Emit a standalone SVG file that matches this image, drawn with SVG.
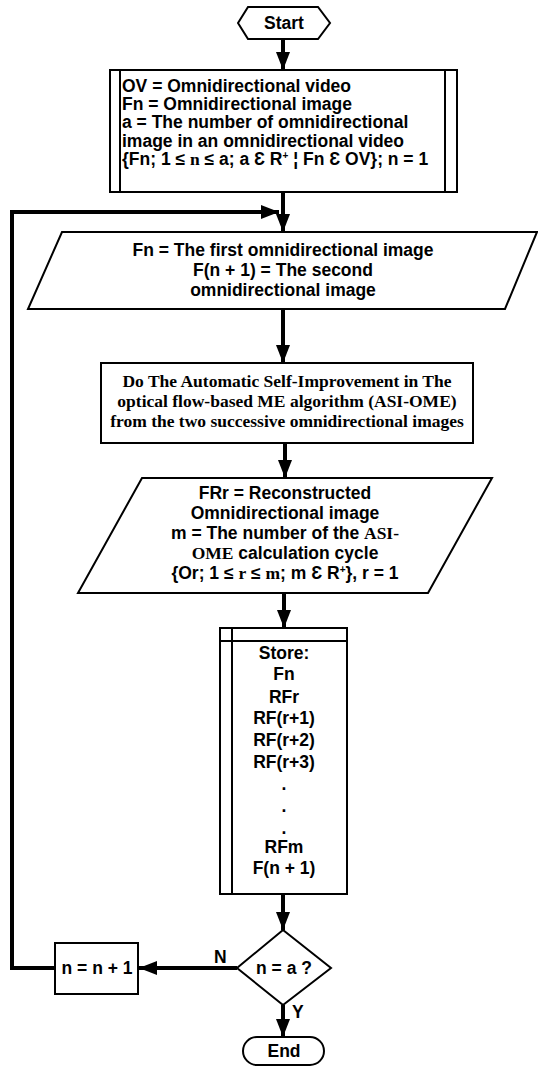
<svg xmlns="http://www.w3.org/2000/svg" width="538" height="1066" viewBox="0 0 538 1066">
<style>
.s{fill:#fff;stroke:#000;stroke-width:2}
.t{font-family:"Liberation Sans",Arial,sans-serif;font-weight:bold;font-size:17.5px;fill:#000}
.c{text-anchor:middle}
.tm{font-family:"Liberation Serif","Times New Roman",serif;font-weight:bold}
.sup{font-size:10px}
.ln{fill:none;stroke:#000;stroke-width:4}
</style>
<defs>
<marker id="ah" markerUnits="userSpaceOnUse" markerWidth="18" markerHeight="14" refX="18" refY="7" orient="auto">
<path d="M0,0 L18,7 L0,14 z" fill="#000"/>
</marker>
</defs>
<g id="start">
<polygon class="s" points="238,23 248,7 318,7 330,23 318,39 248,39"/>
<text class="t c" x="284" y="29">Start</text>
</g>
<g id="init">
<rect class="s" x="110" y="70" width="347" height="122"/>
<line class="s" x1="120" y1="70" x2="120" y2="192"/>
<line class="s" x1="445" y1="70" x2="445" y2="192"/>
<text class="t" x="122" y="92">OV = Omnidirectional video</text>
<text class="t" x="122" y="110">Fn = Omnidirectional image</text>
<text class="t" x="122" y="128">a = The number of omnidirectional</text>
<text class="t" x="122" y="147">image in an omnidirectional video</text>
<text class="t" x="122" y="165">{Fn; 1 ≤ <tspan class="tm">n</tspan> ≤ a; a Ɛ R<tspan class="sup" dy="-6">+</tspan><tspan dy="6"> ¦ Fn Ɛ OV}; n = 1</tspan></text>
</g>
<g id="input1">
<polygon class="s" points="62,232 537,232 505,309 28,309"/>
<text class="t c" x="283" y="256">Fn = The first omnidirectional image</text>
<text class="t c" x="283" y="276">F(n + 1) = The second</text>
<text class="t c" x="283" y="296">omnidirectional image</text>
</g>
<g id="asiome">
<rect class="s" x="101" y="363" width="372" height="80"/>
<text class="t tm c" x="287" y="387">Do The Automatic Self-Improvement in The</text>
<text class="t tm c" x="287" y="407">optical flow-based ME algorithm (ASI-OME)</text>
<text class="t tm c" x="287" y="427">from the two successive omnidirectional images</text>
</g>
<g id="input2">
<polygon class="s" points="142,478 492,478 428,593 78,593"/>
<text class="t c" x="285" y="499">FRr = Reconstructed</text>
<text class="t c" x="285" y="519">Omnidirectional image</text>
<text class="t c" x="285" y="539">m = The number of the <tspan class="tm">ASI-</tspan></text>
<text class="t c" x="285" y="559"><tspan class="tm">OME</tspan> calculation cycle</text>
<text class="t c" x="285" y="579">{Or; 1 ≤ <tspan class="tm">r</tspan> ≤ <tspan class="tm">m</tspan>; m Ɛ R<tspan class="sup" dy="-6">+</tspan><tspan dy="6">}, r = 1</tspan></text>
</g>
<g id="store">
<rect class="s" x="220" y="628" width="127" height="266"/>
<line class="s" x1="232" y1="628" x2="232" y2="894"/>
<line class="s" x1="220" y1="641" x2="347" y2="641"/>
<text class="t c" x="284" y="659">Store:</text>
<text class="t c" x="284" y="680">Fn</text>
<text class="t c" x="284" y="703">RFr</text>
<text class="t c" x="284" y="724">RF(r+1)</text>
<text class="t c" x="284" y="746">RF(r+2)</text>
<text class="t c" x="284" y="768">RF(r+3)</text>
<text class="t c" x="284" y="790">.</text>
<text class="t c" x="284" y="812">.</text>
<text class="t c" x="284" y="834">.</text>
<text class="t c" x="284" y="853">RFm</text>
<text class="t c" x="284" y="874">F(n + 1)</text>
</g>
<g id="decision">
<polygon class="s" points="283,930 331,968 283,1005 237,968"/>
<text class="t c" x="284" y="974">n = a ?</text>
</g>
<g id="incr">
<rect class="s" x="55" y="943" width="83" height="51"/>
<text class="t c" x="97" y="974">n = n + 1</text>
</g>
<g id="end">
<rect class="s" x="243" y="1037" width="81" height="28" rx="14" ry="14"/>
<text class="t c" x="284" y="1057">End</text>
</g>
<g id="connectors">
<line class="ln" x1="283" y1="39" x2="283" y2="70" marker-end="url(#ah)"/>
<line class="ln" x1="283" y1="192" x2="283" y2="232" marker-end="url(#ah)"/>
<polyline class="ln" points="55,968 12,968 12,212 279,212" marker-end="url(#ah)"/>
<line class="ln" x1="283" y1="309" x2="283" y2="363" marker-end="url(#ah)"/>
<line class="ln" x1="285" y1="443" x2="285" y2="478" marker-end="url(#ah)"/>
<line class="ln" x1="284" y1="593" x2="284" y2="628" marker-end="url(#ah)"/>
<line class="ln" x1="283" y1="894" x2="283" y2="930" marker-end="url(#ah)"/>
<line class="ln" x1="237" y1="968" x2="139" y2="968" marker-end="url(#ah)"/>
<line class="ln" x1="283" y1="1005" x2="283" y2="1037" marker-end="url(#ah)"/>
<text class="t" x="214" y="963">N</text>
<text class="t" x="292" y="1018">Y</text>
</g>
</svg>
